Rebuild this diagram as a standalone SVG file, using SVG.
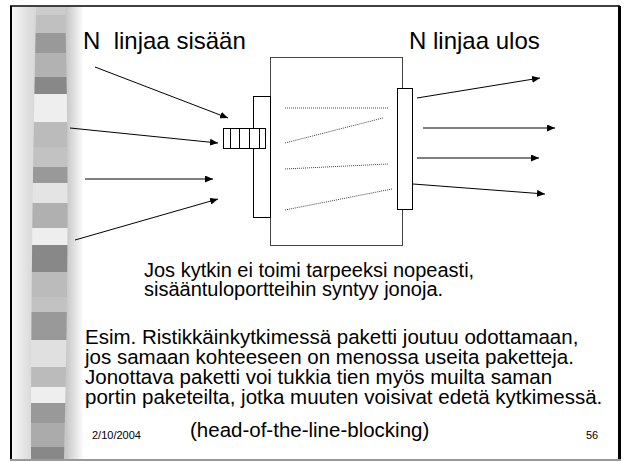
<svg xmlns="http://www.w3.org/2000/svg" width="624" height="462" viewBox="0 0 624 462">
<defs>
<linearGradient id="side" x1="12" y1="0" x2="84" y2="0" gradientUnits="userSpaceOnUse">
<stop offset="0" stop-color="#f6f6f6"/>
<stop offset="0.25" stop-color="#dcdcdc"/>
<stop offset="0.75" stop-color="#c6c6c6"/>
<stop offset="1" stop-color="#ffffff"/>
</linearGradient>
<clipPath id="band">
<path d="M36,7 C34,120 31,250 31,459 L64,459 C68,300 69,150 65,7 Z"/>
</clipPath>
<marker id="ah" viewBox="0 0 8 7" refX="8" refY="3.5" markerWidth="8" markerHeight="7" markerUnits="userSpaceOnUse" orient="auto">
<path d="M0,0 L8,3.5 L0,7 Z" fill="#000"/>
</marker>
<style>
.t{font-family:"Liberation Sans",Arial,sans-serif;fill:#000;white-space:pre}
.title{font-size:24px}
.body{font-size:20.5px}
.small{font-size:11px}
.arr{stroke:#000;stroke-width:1;fill:none;marker-end:url(#ah)}
.dot{stroke:#444;stroke-width:1;stroke-dasharray:1 1;fill:none}
.port{fill:#fff;stroke:#000;stroke-width:1}
</style>
</defs>
<rect width="624" height="462" fill="#fff"/>
<g id="decoration">
<rect x="12" y="7" width="72" height="452" fill="url(#side)"/>
<g clip-path="url(#band)">
<rect x="28" y="7" width="44" height="9" fill="#cccccc"/>
<rect x="28" y="15" width="44" height="18" fill="#c0c0c0"/>
<rect x="28" y="33" width="44" height="20" fill="#999999"/>
<rect x="28" y="53" width="44" height="24" fill="#b2b2b2"/>
<rect x="28" y="77" width="44" height="17" fill="#888888"/>
<rect x="28" y="94" width="44" height="28" fill="#eeeeee"/>
<rect x="28" y="122" width="44" height="25" fill="#bbbbbb"/>
<rect x="28" y="147" width="44" height="20" fill="#c2c2c2"/>
<rect x="28" y="167" width="44" height="16" fill="#999999"/>
<rect x="28" y="183" width="44" height="20" fill="#e4e4e4"/>
<rect x="28" y="203" width="44" height="25" fill="#b0b0b0"/>
<rect x="28" y="228" width="44" height="17" fill="#eeeeee"/>
<rect x="28" y="245" width="44" height="27" fill="#888888"/>
<rect x="28" y="272" width="44" height="25" fill="#bbbbbb"/>
<rect x="28" y="297" width="44" height="15" fill="#c2c2c2"/>
<rect x="28" y="312" width="44" height="28" fill="#999999"/>
<rect x="28" y="340" width="44" height="27" fill="#e0e0e0"/>
<rect x="28" y="367" width="44" height="20" fill="#bbbbbb"/>
<rect x="28" y="387" width="44" height="16" fill="#eeeeee"/>
<rect x="28" y="403" width="44" height="20" fill="#999999"/>
<rect x="28" y="423" width="44" height="24" fill="#ababab"/>
<rect x="28" y="447" width="44" height="12" fill="#888888"/>
</g>
</g>
<g id="frame">
<line x1="11" y1="6" x2="11" y2="460" stroke="#000" stroke-width="2"/>
<line x1="10" y1="6" x2="620" y2="6" stroke="#000" stroke-width="1.5"/>
<line x1="619.5" y1="6" x2="619.5" y2="460" stroke="#000" stroke-width="3"/>
<line x1="10" y1="460" x2="621" y2="460" stroke="#999" stroke-width="2"/>
</g>
<g id="switch">
<rect x="270.5" y="57.5" width="132" height="188" fill="#fff" stroke="#444" stroke-width="1"/>
</g>
<g id="input-port">
<rect x="253.5" y="96.5" width="17" height="121" class="port"/>
</g>
<g id="output-port">
<rect x="397.5" y="88.5" width="15" height="121" class="port"/>
</g>
<g id="queue">
<rect x="223.5" y="128.5" width="42" height="20" class="port"/>
<path d="M230.5,128.5 V148.5 M239.5,128.5 V148.5 M249.5,128.5 V148.5 M259.5,128.5 V148.5" stroke="#000" stroke-width="1"/>
</g>
<g id="connectors">
<path class="dot" d="M285,108 L388,108"/>
<path class="dot" d="M285,143 L383,118"/>
<path class="dot" d="M285,169 L388,164"/>
<path class="dot" d="M285,210 L392,189"/>
<path class="arr" d="M95,67 L228,118"/>
<path class="arr" d="M70,128 L218,143"/>
<path class="arr" d="M85,179 L213,179"/>
<path class="arr" d="M75,240 L218,199"/>
<path class="arr" d="M417,98 L540,78"/>
<path class="arr" d="M423,128 L555,128"/>
<path class="arr" d="M417,158 L539,158"/>
<path class="arr" d="M413,184 L545,194"/>
</g>
<g id="labels">
<text class="t title" x="83" y="49">N  linjaa sisään</text>
<text class="t title" x="409" y="49">N linjaa ulos</text>
<text class="t body" style="font-size:20px" x="144" y="277">Jos kytkin ei toimi tarpeeksi nopeasti,<tspan x="144" dy="19">sisääntuloportteihin syntyy jonoja.</tspan></text>
<text class="t body" x="85" y="344">Esim. Ristikkäinkytkimessä paketti joutuu odottamaan,<tspan x="85" dy="20">jos samaan kohteeseen on menossa useita paketteja.</tspan><tspan x="85" dy="20">Jonottava paketti voi tukkia tien myös muilta saman</tspan><tspan x="85" dy="20">portin paketeilta, jotka muuten voisivat edetä kytkimessä.</tspan></text>
<text class="t body" x="190" y="437">(head-of-the-line-blocking)</text>
<text class="t small" x="92" y="439">2/10/2004</text>
<text class="t small" x="586" y="439">56</text>
</g>
</svg>
